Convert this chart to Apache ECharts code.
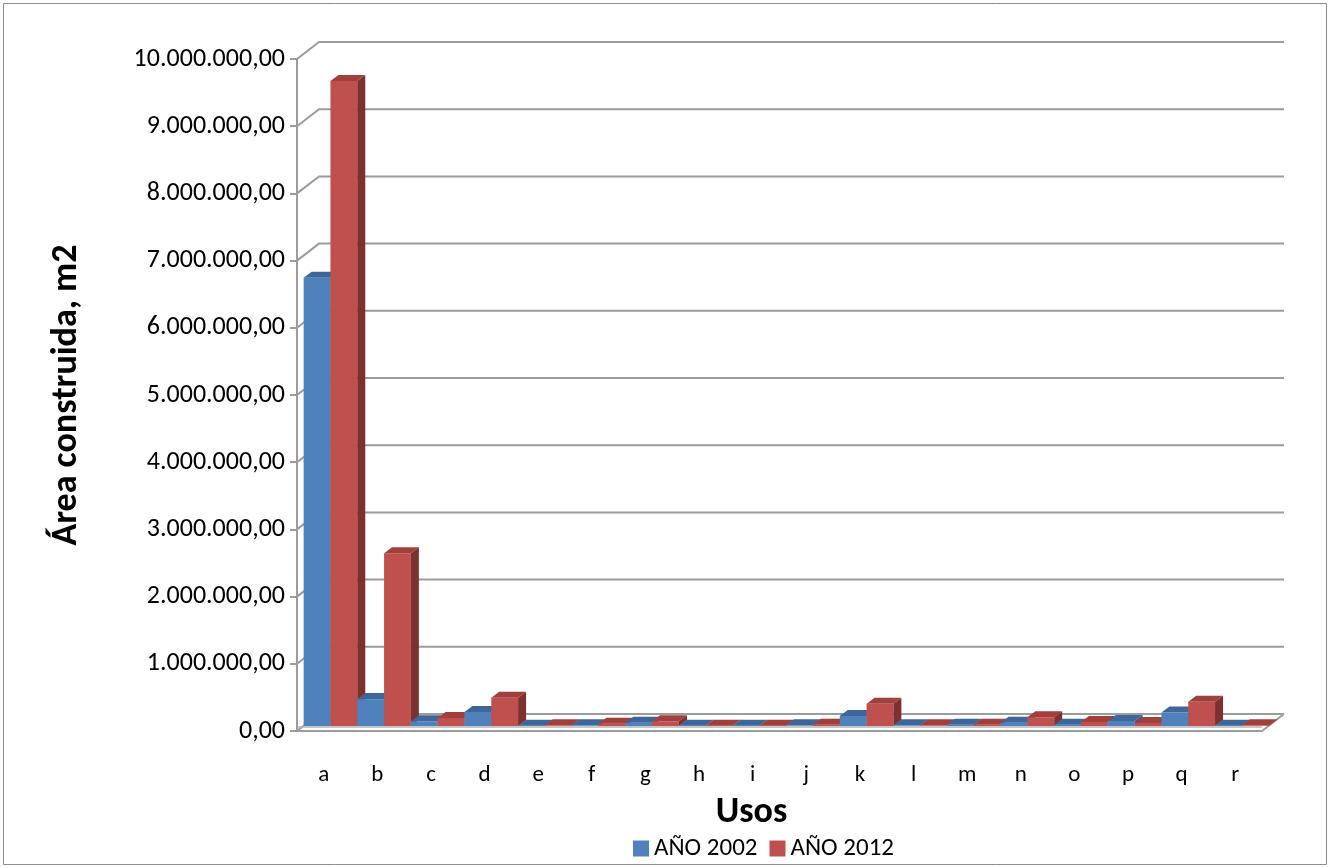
<!DOCTYPE html>
<html>
<head>
<meta charset="utf-8">
<script src="https://cdn.jsdelivr.net/npm/echarts@6/dist/echarts.min.js"></script>
<style>
  html, body { margin: 0; padding: 0; background: #fff; }
  #chart { width: 1331px; height: 868px; }
</style>
</head>
<body>
<div id="chart"></div>
<script>
// datos
var categories = ['a', 'b', 'c', 'd', 'e', 'f', 'g', 'h', 'i', 'j', 'k', 'l', 'm', 'n', 'o', 'p', 'q', 'r'];
var area2002 = [6670000, 400000, 70000, 210000, 5000, 10000, 50000, 5000, 5000, 10000, 150000, 10000, 20000, 50000, 20000, 75000, 200000, 5000];
var area2012 = [9600000, 2570000, 120000, 420000, 10000, 35000, 70000, 5000, 5000, 20000, 330000, 10000, 20000, 130000, 60000, 45000, 360000, 10000];
var seriesNames = ['AÑO 2002', 'AÑO 2012'];
var yMax = 10000000;
var yStep = 1000000;

var FONT = 'Carlito, Lato, sans-serif';
var GRAY = '#9c9c9c';
// colores: frente, techo, lado
var colors = [
  ['#4F81BD', '#3E6799', '#375B88'],
  ['#C0504D', '#A13F3C', '#7E302E']
];

function fmt(v) {
  var s = Math.round(v).toString().replace(/\B(?=(\d{3})+(?!\d))/g, '.');
  return s + ',00';
}

// datos de barras: [categoria, valor, serie] en orden de dibujo
var barData = [];
for (var i = 0; i < categories.length; i++) {
  barData.push([i, area2002[i], 0]);
  barData.push([i, area2012[i], 1]);
}
var wallData = [];
for (var t = 0; t <= yMax; t += yStep) {
  wallData.push([0, t]);
}

var WDX = 22, WDY = -17;   // profundidad pared
var BDX = 8, BDY = -6;     // profundidad barra

function renderWall(params, api) {
  var cs = params.coordSys;
  var y = api.coord([0, api.value(1)])[1];
  var x0 = cs.x, x1 = cs.x + cs.width;
  var style = { stroke: GRAY, lineWidth: 2, fill: null };
  var children = [{
    type: 'polyline',
    shape: { points: [[x0, y], [x0 + WDX, y + WDY], [x1 + WDX, y + WDY]] },
    style: style
  }];
  if (api.value(1) === 0) {
    children.push({
      type: 'line',
      shape: { x1: x1, y1: y, x2: x1 + WDX, y2: y + WDY },
      style: style
    });
    children.push({
      type: 'line',
      shape: { x1: x0, y1: y - 4, x2: x1, y2: y - 4 },
      style: { stroke: '#b5b5b5', lineWidth: 1.5 }
    });
  }
  return { type: 'group', children: children };
}

function renderBar(params, api) {
  var i = api.value(0), v = api.value(1), s = api.value(2);
  var base = api.coord([i, 0]);
  var top = api.coord([i, v]);
  var band = api.size([1, 0])[0];
  var w = band / 2;
  var x = base[0] - band / 2 + band * 0.124 + s * w;
  var yb = base[1] - 5;
  var yt = top[1] - 5;
  var c = colors[s];
  return {
    type: 'group',
    children: [
      {
        type: 'rect',
        shape: { x: x, y: yt, width: w, height: yb - yt },
        style: { fill: c[0] }
      },
      {
        type: 'polygon',
        shape: { points: [[x, yt], [x + w, yt], [x + w + BDX, yt + BDY], [x + BDX, yt + BDY]] },
        style: { fill: c[1] }
      },
      {
        type: 'polygon',
        shape: { points: [[x + w, yt], [x + w + BDX, yt + BDY], [x + w + BDX, yb + BDY], [x + w, yb]] },
        style: { fill: c[2] }
      }
    ]
  };
}

var chart = echarts.init(document.getElementById('chart'));
var option = {
  backgroundColor: '#fff',
  animation: false,
  textStyle: { fontFamily: FONT },
  graphic: [{
    type: 'rect',
    shape: { x: 3.5, y: 3.5, width: 1323, height: 861 },
    style: { fill: null, stroke: '#8c8c8c', lineWidth: 1 }
  }],
  grid: { left: 297, right: 69, top: 59, bottom: 137 },
  legend: {
    data: seriesNames,
    left: 628,
    top: 831,
    itemWidth: 16,
    itemHeight: 16,
    itemGap: 12,
    icon: 'rect',
    textStyle: { fontSize: 25, color: '#000', fontFamily: FONT }
  },
  xAxis: {
    type: 'category',
    data: categories,
    name: 'Usos',
    nameLocation: 'middle',
    nameGap: 64,
    nameTextStyle: { fontSize: 36, fontWeight: 'bold', color: '#000', padding: [0, 56, 0, 0] },
    axisLine: { lineStyle: { color: GRAY, width: 2 } },
    axisTick: { length: 8, lineStyle: { color: GRAY, width: 2 } },
    axisLabel: { margin: 33, fontSize: 23, color: '#000' }
  },
  yAxis: {
    type: 'value',
    min: 0,
    max: yMax,
    interval: yStep,
    name: 'Área construida, m2',
    nameLocation: 'middle',
    nameGap: 212,
    nameTextStyle: { fontSize: 36, fontWeight: 'bold', color: '#000' },
    axisLine: { show: true, lineStyle: { color: GRAY, width: 2 } },
    axisTick: { show: true, length: 7, lineStyle: { color: GRAY, width: 2 } },
    axisLabel: { margin: 12, fontSize: 26, color: '#000', formatter: fmt },
    splitLine: { show: false }
  },
  series: [
    {
      type: 'custom',
      name: 'pared',
      renderItem: renderWall,
      data: wallData,
      encode: { x: 0, y: 1 },
      silent: true,
      z: 1
    },
    {
      type: 'custom',
      name: 'barras',
      renderItem: renderBar,
      data: barData,
      encode: { x: 0, y: 1 },
      z: 2
    },
    { type: 'bar', name: seriesNames[0], data: [], itemStyle: { color: colors[0][0] } },
    { type: 'bar', name: seriesNames[1], data: [], itemStyle: { color: colors[1][0] } }
  ]
};
chart.setOption(option);
</script>
</body>
</html>
